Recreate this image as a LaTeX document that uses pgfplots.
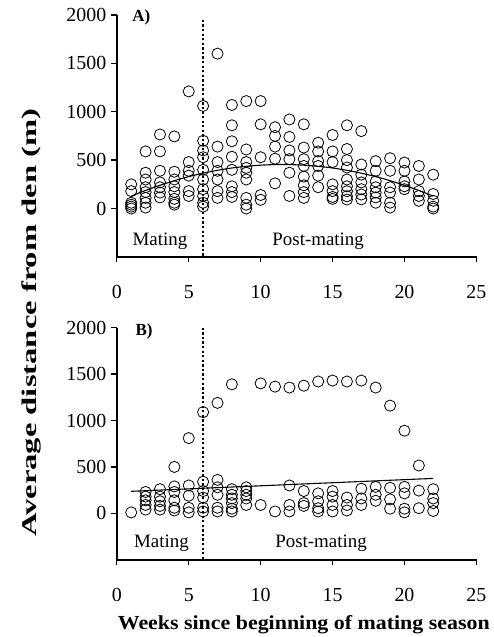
\documentclass[border=0pt]{standalone}
\usepackage{fontspec}
\setmainfont{Liberation Serif}
\usepackage{pgfplots}
\pgfplotsset{compat=1.18}

\pgfplotsset{
  panel/.style={
    scale only axis,
    width=361pt,
    xmin=0, xmax=25, ymin=-500, ymax=2000,
    axis lines*=left,
    axis line style={line width=1.6pt},
    xtick={0,5,...,25}, ytick={0,500,...,2000},
    tick align=outside,
    major tick length=5pt,
    tick style={line width=1.3pt},
    tick label style={font=\fontsize{20}{22}\selectfont},
    xticklabel style={yshift=-20pt},
    yticklabel style={xshift=-2pt},
    /pgf/number format/assume math mode=true,
    /pgf/number format/1000 sep={},
    clip=false,
  },
  pts/.style={only marks, mark=o, mark size=5.6pt,
    mark options={black, line width=0.8pt}},
  trend/.style={black, line width=1.1pt, no marks},
}
\tikzset{
  dotsep/.style={line width=2.3pt, dash pattern=on 2.3pt off 2.3pt},
  lbl/.style={font=\fontsize{19}{21}\selectfont},
}
% left and bottom axis lines with outside ticks, as thin filled bars
% #1 = data units per pt on the y axis
\newcommand\frameaxes[1]{%
  \fill[black] (axis cs:-0.055,2000) rectangle (axis cs:0.055,{-500-0.8*#1});
  \fill[black] (axis cs:-0.055,{-500-0.8*#1}) rectangle (axis cs:25.055,{-500+0.8*#1});
  \pgfplotsinvokeforeach{0,5,10,15,20,25}{%
    \fill[black] (axis cs:{##1-0.045},-500) rectangle (axis cs:{##1+0.045},{-500-5.5*#1});}
  \pgfplotsinvokeforeach{0,500,1000,1500,2000}{%
    \fill[black] (axis cs:-0.40,{##1-0.65*#1}) rectangle (axis cs:0,{##1+0.65*#1});}
}

\begin{document}
\begin{tikzpicture}
\path (0pt,0pt) rectangle (494pt,637pt);

% ---- Panel A ----
\begin{axis}[panel, height=243pt, at={(117.3pt,379pt)}, anchor=south west]
\frameaxes{10.3}
\draw[dotsep] (axis cs:6,1950) -- (axis cs:6,-500);
\addplot[pts] coordinates {
 (1,250) (1,180) (1,60) (1,40) (1,20) (1,0)
 (2,590) (2,370) (2,300) (2,220) (2,170) (2,110) (2,60) (2,10)
 (3,765) (3,590) (3,390) (3,270) (3,220) (3,165) (3,115)
 (4,745) (4,380) (4,300) (4,230) (4,170) (4,100) (4,60) (4,40)
 (5,1210) (5,480) (5,390) (5,340) (5,180) (5,130)
 (6,1060) (6,700) (6,600) (6,530) (6,400) (6,300) (6,200) (6,130) (6,60) (6,20)
 (7,1600) (7,640) (7,480) (7,390) (7,300) (7,180) (7,110)
 (8,1070) (8,860) (8,695) (8,535) (8,400) (8,230) (8,170) (8,120)
 (9,1110) (9,610) (9,480) (9,420) (9,370) (9,300) (9,110) (9,40) (9,0)
 (10,1110) (10,870) (10,530) (10,140) (10,90)
 (11,840) (11,750) (11,640) (11,515) (11,260)
 (12,920) (12,740) (12,600) (12,510) (12,370) (12,130)
 (13,870) (13,630) (13,510) (13,440) (13,330) (13,240) (13,170) (13,110)
 (14,680) (14,590) (14,490) (14,440) (14,340) (14,220)
 (15,760) (15,590) (15,480) (15,250) (15,180) (15,120) (15,100)
 (16,860) (16,615) (16,500) (16,424) (16,300) (16,230) (16,179) (16,127) (16,93)
 (17,800) (17,455) (17,350) (17,270) (17,200) (17,145) (17,95)
 (18,490) (18,390) (18,280) (18,220) (18,165) (18,115) (18,60)
 (19,520) (19,390) (19,220) (19,165) (19,60) (19,10)
 (20,475) (20,390) (20,280) (20,230) (20,200)
 (21,440) (21,300) (21,180) (21,130) (21,80)
 (22,350) (22,150) (22,80) (22,20) (22,0)
};
\addplot[trend, smooth] coordinates {
 (1,128) (2,187) (3,240) (4,288) (5,330) (6,365) (7,395) (8,419)
 (9,436) (10,448) (11,454) (12,454) (13,448) (14,436) (15,419)
 (16,395) (17,365) (18,330) (19,288) (20,240) (21,187) (22,128)
};
\node[font=\fontsize{17}{19}\selectfont\bfseries] at (axis cs:1.7,1973) {A)};
\node[lbl] at (axis cs:3.0,-340) {Mating};
\node[lbl] at (axis cs:14.0,-340) {Post-mating};
\end{axis}

% ---- Panel B ----
\begin{axis}[panel, height=233pt, at={(117.3pt,75pt)}, anchor=south west]
\frameaxes{10.7}
\draw[dotsep] (axis cs:6,2000) -- (axis cs:6,-500);
\addplot[pts] coordinates {
 (1,10)
 (2,230) (2,180) (2,140) (2,90) (2,40)
 (3,260) (3,180) (3,130) (3,80) (3,40)
 (4,500) (4,290) (4,230) (4,140) (4,60) (4,30)
 (5,810) (5,300) (5,190) (5,60) (5,10)
 (6,1090) (6,340) (6,240) (6,170) (6,60) (6,20)
 (7,1190) (7,360) (7,280) (7,200) (7,60) (7,20)
 (8,1390) (8,260) (8,200) (8,160) (8,110) (8,50) (8,20)
 (9,280) (9,240) (9,200) (9,160) (9,90)
 (10,1400) (10,90)
 (11,1365) (11,20)
 (12,1355) (12,300) (12,90) (12,20)
 (13,1375) (13,240) (13,110) (13,80)
 (14,1420) (14,215) (14,130) (14,55) (14,20)
 (15,1430) (15,240) (15,180) (15,90) (15,20)
 (16,1420) (16,170) (16,90) (16,30)
 (17,1430) (17,265) (17,160) (17,90)
 (18,1355) (18,285) (18,200) (18,135)
 (19,1160) (19,275) (19,150) (19,50)
 (20,890) (20,285) (20,215) (20,50) (20,10)
 (21,515) (21,245) (21,55)
 (22,260) (22,160) (22,110) (22,25)
};
\addplot[trend] coordinates {(1,237) (22,376)};
\node[font=\fontsize{17}{19}\selectfont\bfseries] at (axis cs:1.9,1957) {B)};
\node[lbl] at (axis cs:3.1,-322) {Mating};
\node[lbl] at (axis cs:14.2,-322) {Post-mating};
\end{axis}

\node[rotate=90, font=\fontsize{21}{23}\selectfont\bfseries] at (32pt,313pt)
  {\scalebox{1.56}[1]{Average distance from den (m)}};
\node[font=\fontsize{20}{22}\selectfont\bfseries] at (305pt,10pt)
  {\scalebox{1.1}[1]{Weeks since beginning of mating season}};
\end{tikzpicture}
\end{document}
